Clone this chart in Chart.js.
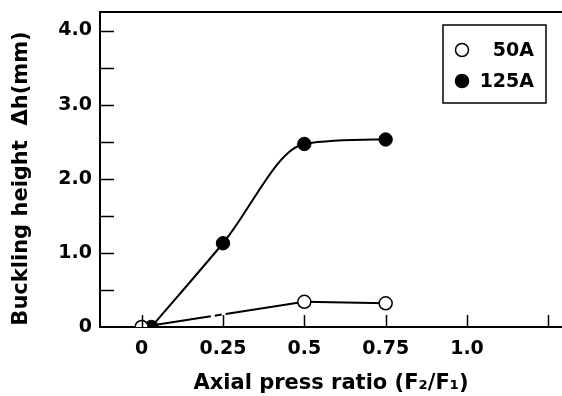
<!DOCTYPE html>
<html><head><meta charset="utf-8">
<script src="https://cdn.jsdelivr.net/npm/chart.js@4.4.1/dist/chart.umd.min.js"></script>
<style>html,body{margin:0;padding:0;background:#fff}#wrap{width:562px;height:396px}</style>
</head><body><div id="wrap"><canvas id="c" width="562" height="396"></canvas></div>
<script>
const seriesNames = ['50A', '125A'];
const x50 = [0, 0.5, 0.75];
const y50 = [0, 0.34, 0.32];
const x125 = [0.03, 0.25, 0.5, 0.75];
const y125 = [0, 1.13, 2.47, 2.53];
const xTickValues = [0, 0.25, 0.5, 0.75, 1.0];
const xTickLabels = ['0', '0.25', '0.5', '0.75', '1.0'];
const xTickMarks = [0, 0.25, 0.5, 0.75, 1.0, 1.25];
const yTickValues = [0, 1, 2, 3, 4];
const yTickLabels = ['0', '1.0', '2.0', '3.0', '4.0'];
const yTickMarks = [0.5, 1, 1.5, 2, 2.5, 3, 3.5, 4];
const xTitle = 'Axial press ratio (F\u2082/F\u2081)';
const yTitle = 'Buckling height  \u0394h(mm)';

const FONT = '"DejaVu Sans", sans-serif';

const ticksAndFrame = {
  id: 'ticksAndFrame',
  afterDatasetsDraw(chart) {
    const {ctx, chartArea} = chart;
    const xs = chart.scales.x, ys = chart.scales.y;
    ctx.save();
    ctx.strokeStyle = '#000';
    ctx.lineWidth = 2;
    ctx.beginPath();
    ctx.moveTo(chartArea.left - 1, chartArea.top);
    ctx.lineTo(chartArea.right, chartArea.top);
    ctx.stroke();
    ctx.lineWidth = 1.5;
    yTickMarks.forEach(v => {
      const py = Math.round(ys.getPixelForValue(v)) + 0.5;
      ctx.beginPath(); ctx.moveTo(chartArea.left, py); ctx.lineTo(chartArea.left + 14, py); ctx.stroke();
    });
    xTickMarks.forEach(v => {
      const px = Math.round(xs.getPixelForValue(v)) + 0.5;
      ctx.beginPath(); ctx.moveTo(px, chartArea.bottom); ctx.lineTo(px, chartArea.bottom - 12); ctx.stroke();
    });
    ctx.restore();
  },
  afterDraw(chart) {
    const {ctx, chartArea} = chart;
    // y axis title
    ctx.save();
    ctx.translate(22, (chartArea.top + chartArea.bottom) / 2 + 9);
    ctx.rotate(-Math.PI / 2);
    ctx.font = 'bold 21px ' + FONT;
    ctx.fillStyle = '#000';
    ctx.textAlign = 'center';
    ctx.textBaseline = 'middle';
    ctx.fillText(yTitle, 0, 0);
    ctx.restore();
    // legend
    const bx = chartArea.right - 119, by = chartArea.top + 13, bw = 103, bh = 78;
    ctx.save();
    ctx.fillStyle = '#fff';
    ctx.fillRect(bx, by, bw, bh);
    ctx.strokeStyle = '#000';
    ctx.lineWidth = 1.5;
    ctx.strokeRect(bx, by, bw, bh);
    ctx.font = 'bold 19px ' + FONT;
    ctx.textAlign = 'right';
    ctx.textBaseline = 'middle';
    chart.data.datasets.forEach((ds, i) => {
      const cy = by + 25 + i * 31;
      ctx.beginPath();
      ctx.arc(bx + 19, cy, 6.5, 0, Math.PI * 2);
      ctx.fillStyle = ds.pointBackgroundColor;
      ctx.fill();
      ctx.lineWidth = 1.5;
      ctx.strokeStyle = '#000';
      ctx.stroke();
      ctx.fillStyle = '#000';
      ctx.fillText(ds.label, bx + 91, cy + 1);
    });
    ctx.restore();
  }
};

new Chart(document.getElementById('c'), {
  type: 'scatter',
  data: {
    datasets: [
      {
        label: seriesNames[0],
        data: x50.map((x, i) => ({x, y: y50[i]})),
        showLine: true,
        borderColor: '#000',
        borderWidth: 2,
        tension: 0,
        pointRadius: 6.5,
        pointBackgroundColor: '#fff',
        pointBorderColor: '#000',
        pointBorderWidth: 1.5,
        segment: { borderDash: c => c.p0DataIndex === 0 ? [70, 4, 7, 4, 300] : undefined }
      },
      {
        label: seriesNames[1],
        data: x125.map((x, i) => ({x, y: y125[i]})),
        showLine: true,
        borderColor: '#000',
        borderWidth: 2,
        cubicInterpolationMode: 'monotone',
        pointRadius: 6.7,
        pointBackgroundColor: '#000',
        pointBorderColor: '#000',
        pointBorderWidth: 1
      }
    ]
  },
  options: {
    responsive: false,
    animation: false,
    layout: { autoPadding: false, padding: { top: 12, right: 0, left: 0, bottom: 0 } },
    plugins: { legend: { display: false }, tooltip: { enabled: false } },
    scales: {
      x: {
        type: 'linear',
        min: -0.128, max: 1.292,
        afterBuildTicks: s => { s.ticks = xTickValues.map(v => ({value: v})); },
        afterFit: s => { s.height = 69; s.paddingLeft = 0; s.paddingRight = 0; },
        grid: { display: false, drawTicks: false },
        border: { display: true, color: '#000', width: 2 },
        ticks: {
          color: '#000', padding: 11, maxRotation: 0, autoSkip: false,
          font: { family: FONT, size: 19, weight: 'bold' },
          callback: (v) => { const i = xTickValues.indexOf(v); return i >= 0 ? xTickLabels[i] : ''; }
        },
        title: { display: true, text: xTitle, color: '#000', padding: { top: 0, bottom: 0 },
          font: { family: FONT, size: 21, weight: 'bold' } }
      },
      y: {
        type: 'linear',
        min: 0, max: 4.25,
        afterBuildTicks: s => { s.ticks = yTickValues.map(v => ({value: v})); },
        afterFit: s => { s.width = 100; s.paddingTop = 0; s.paddingBottom = 0; },
        grid: { display: false, drawTicks: false },
        border: { display: true, color: '#000', width: 2 },
        ticks: {
          color: '#000', padding: 8, autoSkip: false,
          font: { family: FONT, size: 19, weight: 'bold' },
          callback: (v) => { const i = yTickValues.indexOf(v); return i >= 0 ? yTickLabels[i] : ''; }
        },
        title: { display: false }
      }
    }
  },
  plugins: [ticksAndFrame]
});
</script></body></html>
